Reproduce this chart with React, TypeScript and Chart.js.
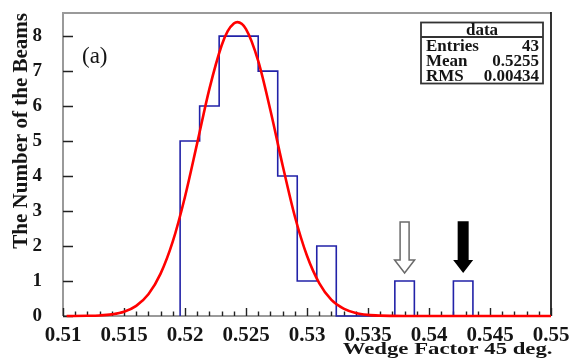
import React, { useEffect, useRef } from 'react';
import { Chart, registerables } from 'chart.js';

Chart.register(...registerables);

// ---- data ----
const binEdges = [0.5196, 0.5212, 0.5228, 0.5244, 0.526, 0.5276, 0.5292, 0.5308, 0.5324, 0.534, 0.5356, 0.5372, 0.5388, 0.5404, 0.542, 0.5436];
const binCounts = [5, 6, 8, 8, 7, 4, 1, 2, 0, 0, 0, 1, 0, 0, 1];

const fitX = [0.5103, 0.512, 0.513, 0.514, 0.515, 0.516, 0.517, 0.518, 0.519, 0.52, 0.521, 0.522, 0.523, 0.5235, 0.524, 0.5243, 0.525, 0.526, 0.527, 0.528, 0.529, 0.53, 0.531, 0.532, 0.533, 0.534, 0.535, 0.536, 0.537, 0.538, 0.55];
const fitY = [0.0, 0.005, 0.016, 0.047, 0.12, 0.29, 0.62, 1.21, 2.13, 3.41, 4.94, 6.49, 7.73, 8.14, 8.36, 8.4, 8.2, 7.29, 5.88, 4.31, 2.85, 1.72, 0.94, 0.46, 0.21, 0.085, 0.031, 0.01, 0.003, 0.0, 0.0];

const xTickValues = [0.51, 0.515, 0.52, 0.525, 0.53, 0.535, 0.54, 0.545, 0.55];
const xTickLabels = ['0.51', '0.515', '0.52', '0.525', '0.53', '0.535', '0.54', '0.545', '0.55'];
const yTickValues = [0, 1, 2, 3, 4, 5, 6, 7, 8];
const yTickLabels = ['0', '1', '2', '3', '4', '5', '6', '7', '8'];

const arrowX = [0.538, 0.5428];
const arrowFilled = [false, true];
const arrowTopY = [2.69, 2.71];
const arrowHeadY = [1.6, 1.6];
const arrowTipY = [1.23, 1.23];

const statsTitle = 'data';
const statsNames = ['Entries', 'Mean', 'RMS'];
const statsValues = ['43', '0.5255', '0.00434'];
const panelLabel = '(a)';
const xTitle = 'Wedge Factor 45 deg.';
const yTitle = 'The Number of the Beams';

const X_MIN = 0.51;
const X_MAX = 0.55;
const Y_MAX = 8.66;

const SERIF = '"Liberation Serif", "DejaVu Serif", serif';
const TEXT = '#151515';

const histPoints: { x: number; y: number }[] = [{ x: binEdges[0], y: 0 }];
binCounts.forEach((c, i) => {
  histPoints.push({ x: binEdges[i], y: c }, { x: binEdges[i + 1], y: c });
});
histPoints.push({ x: binEdges[binEdges.length - 1], y: 0 });

const fitPoints = fitX.map((x, i) => ({ x, y: fitY[i] }));

const framePlugin = {
  id: 'rootFrame',
  beforeDatasetsDraw(chart: any) {
    const { ctx, chartArea: a, scales } = chart;
    const xs = scales.x;
    const ys = scales.y;
    ctx.save();
    // frame
    ctx.lineWidth = 2;
    ctx.strokeStyle = '#9a9a9a';
    ctx.beginPath();
    ctx.moveTo(a.left, a.bottom);
    ctx.lineTo(a.left, a.top);
    ctx.lineTo(a.right, a.top);
    ctx.moveTo(a.left, a.bottom);
    ctx.lineTo(a.right, a.bottom);
    ctx.stroke();
    ctx.strokeStyle = '#000';
    ctx.lineWidth = 1.6;
    ctx.beginPath();
    ctx.moveTo(a.right, a.top - 1);
    ctx.lineTo(a.right, a.bottom);
    ctx.stroke();
    // x ticks (minor every 0.001, major every 0.005)
    ctx.strokeStyle = '#222';
    ctx.lineWidth = 1.4;
    ctx.beginPath();
    for (let k = 0; k <= 40; k++) {
      const v = X_MIN + k * 0.001;
      const px = Math.round(xs.getPixelForValue(v)) + 0.5;
      const len = k % 5 === 0 ? 8 : 4.5;
      ctx.moveTo(px, a.bottom);
      ctx.lineTo(px, a.bottom - len);
    }
    ctx.stroke();
    // y ticks
    ctx.beginPath();
    yTickValues.forEach((v) => {
      const py = Math.round(ys.getPixelForValue(v)) + 0.5;
      ctx.moveTo(a.left, py);
      ctx.lineTo(a.left + 10, py);
    });
    ctx.stroke();
    ctx.restore();
  },
  afterDatasetsDraw(chart: any) {
    const { ctx, chartArea: a, scales } = chart;
    const xs = scales.x;
    const ys = scales.y;
    ctx.save();
    // arrows
    arrowX.forEach((xv, i) => {
      const cx = xs.getPixelForValue(xv);
      const top = ys.getPixelForValue(arrowTopY[i]);
      const head = ys.getPixelForValue(arrowHeadY[i]);
      const tip = ys.getPixelForValue(arrowTipY[i]);
      const sw = arrowFilled[i] ? 5.5 : 4.5;
      const hw = 10;
      ctx.beginPath();
      ctx.moveTo(cx - sw, top);
      ctx.lineTo(cx + sw, top);
      ctx.lineTo(cx + sw, head);
      ctx.lineTo(cx + hw, head);
      ctx.lineTo(cx, tip);
      ctx.lineTo(cx - hw, head);
      ctx.lineTo(cx - sw, head);
      ctx.closePath();
      if (arrowFilled[i]) {
        ctx.fillStyle = '#000';
        ctx.fill();
      } else {
        ctx.fillStyle = '#fff';
        ctx.fill();
        ctx.strokeStyle = '#6a6a6a';
        ctx.lineWidth = 1.5;
        ctx.stroke();
      }
    });
    // panel label
    ctx.fillStyle = TEXT;
    ctx.font = `23px ${SERIF}`;
    ctx.textAlign = 'left';
    ctx.textBaseline = 'middle';
    ctx.fillText(panelLabel, a.left + 19, a.top + 44);
    // stats box
    const bx = 421, by = 22.5, bw = 122, bh = 61;
    ctx.fillStyle = '#fff';
    ctx.fillRect(bx, by, bw, bh);
    ctx.strokeStyle = '#333';
    ctx.lineWidth = 1.8;
    ctx.strokeRect(bx, by, bw, bh);
    ctx.beginPath();
    ctx.moveTo(bx, by + 14.5);
    ctx.lineTo(bx + bw, by + 14.5);
    ctx.stroke();
    ctx.fillStyle = TEXT;
    ctx.font = `bold 17px ${SERIF}`;
    ctx.textAlign = 'center';
    ctx.fillText(statsTitle, bx + bw / 2, by + 8.5);
    statsNames.forEach((n, i) => {
      const ty = by + 24 + i * 15;
      ctx.textAlign = 'left';
      ctx.fillText(n, bx + 5, ty);
      ctx.textAlign = 'right';
      ctx.fillText(statsValues[i], bx + bw - 4, ty);
    });
    ctx.restore();
  },
  afterDraw(chart: any) {
    const { ctx, chartArea: a } = chart;
    // x-axis title, right-aligned to the axis end (wide ROOT-style lettering)
    ctx.save();
    ctx.translate(a.right + 1.5, 354);
    ctx.scale(1.3, 1);
    ctx.fillStyle = TEXT;
    ctx.font = `bold 17.5px ${SERIF}`;
    ctx.textAlign = 'right';
    ctx.textBaseline = 'alphabetic';
    ctx.fillText(xTitle, 0, 0);
    ctx.restore();
  },
};

export default function App() {
  const canvasRef = useRef<HTMLCanvasElement | null>(null);

  useEffect(() => {
    document.body.style.margin = '0';
    const canvas = canvasRef.current;
    if (!canvas) return;
    const chart = new Chart(canvas, {
      type: 'scatter',
      data: {
        datasets: [
          {
            label: 'fit',
            data: fitPoints,
            showLine: true,
            borderColor: '#ff0000',
            borderWidth: 2.6,
            pointRadius: 0,
            cubicInterpolationMode: 'monotone',
            clip: 6,
          } as any,
          {
            label: 'data',
            data: histPoints,
            showLine: true,
            borderColor: '#2222a8',
            borderWidth: 1.6,
            pointRadius: 0,
            tension: 0,
            clip: 6,
          } as any,
        ],
      },
      options: {
        responsive: false,
        animation: false,
        devicePixelRatio: 1,
        layout: { padding: { top: 13, right: 27, left: 0, bottom: 0 } },
        plugins: {
          legend: { display: false },
          tooltip: { enabled: false },
        },
        scales: {
          x: {
            type: 'linear',
            min: X_MIN,
            max: X_MAX,
            grid: { display: false },
            border: { display: false },
            afterBuildTicks: (scale: any) => {
              scale.ticks = xTickValues.map((v) => ({ value: v }));
            },
            afterFit: (scale: any) => {
              scale.height = 44;
              scale.paddingLeft = 0;
              scale.paddingRight = 0;
            },
            ticks: {
              autoSkip: false,
              maxRotation: 0,
              minRotation: 0,
              padding: -1,
              color: TEXT,
              font: { family: SERIF, size: 21, weight: 'bold' },
              callback: (_v: any, i: number) => xTickLabels[i],
            },
            title: { display: false },
          },
          y: {
            type: 'linear',
            min: 0,
            max: Y_MAX,
            grid: { display: false },
            border: { display: false },
            afterBuildTicks: (scale: any) => {
              scale.ticks = yTickValues.map((v) => ({ value: v }));
            },
            afterFit: (scale: any) => {
              scale.width = 63;
              scale.paddingTop = 0;
              scale.paddingBottom = 0;
            },
            ticks: {
              autoSkip: false,
              padding: 13,
              color: TEXT,
              font: { family: SERIF, size: 19, weight: 'bold' },
              callback: (_v: any, i: number) => yTickLabels[i],
            },
            title: {
              display: true,
              text: yTitle,
              align: 'end',
              color: TEXT,
              font: { family: SERIF, size: 21, weight: 'bold', lineHeight: 1 },
              padding: { top: 11, bottom: 0 },
            },
          },
        },
      },
      plugins: [framePlugin],
    } as any);
    return () => chart.destroy();
  }, []);

  return (
    <div style={{ width: 578, height: 360, background: '#fff' }}>
      <canvas ref={canvasRef} width={578} height={360} />
    </div>
  );
}
